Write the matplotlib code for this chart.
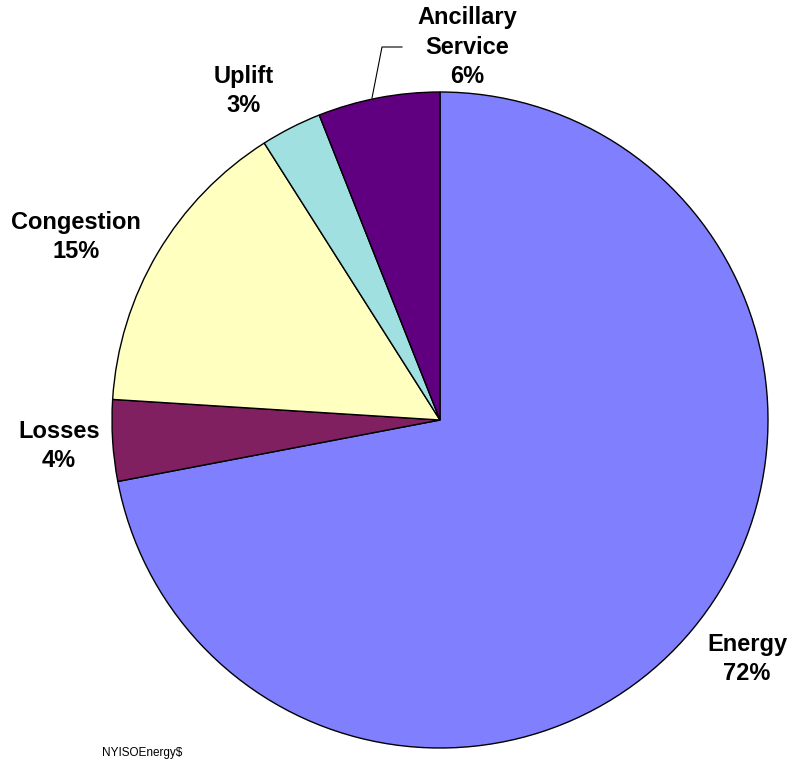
import matplotlib.pyplot as plt

plt.rcParams['font.family'] = ['Liberation Sans', 'DejaVu Sans']

labels = ["Energy", "Losses", "Congestion", "Uplift", "Ancillary\nService"]
shares = [72, 4, 15, 3, 6]
colors = ["#8080FF", "#802060", "#FFFFC0", "#A0E0E0", "#600080"]

W, H = 793, 761
fig = plt.figure(figsize=(W / 100, H / 100), dpi=100)
ax = fig.add_axes([0, 0, 1, 1])

# pie in pixel-like coordinates (y measured from the bottom)
cx, cy, r = 440, H - 420, 328
ax.pie(shares, colors=colors, startangle=90, counterclock=False,
       center=(cx, cy), radius=r, frame=True,
       wedgeprops=dict(edgecolor="black", linewidth=1.0))
ax.set_xlim(0, W)
ax.set_ylim(0, H)
ax.set_aspect("equal")
ax.axis("off")

# label block centres (x, y from the top edge)
label_pos = [(747, 659), (59, 446), (76, 237), (244, 91), (467, 47)]
for name, val, (x, y) in zip(labels, shares, label_pos):
    ax.text(x, H - y, f"{name}\n{val}%", ha="center", va="center",
            fontsize=17, fontweight="bold", linespacing=1.38)

# leader line for Ancillary Service
ax.plot([372, 382, 402], [H - 98, H - 47, H - 47], color="black", lw=0.8)

ax.text(102, H - 753, "NYISOEnergy$", fontsize=8.5, ha="left", va="center")

fig.savefig("out.png", dpi=100, facecolor="white")
